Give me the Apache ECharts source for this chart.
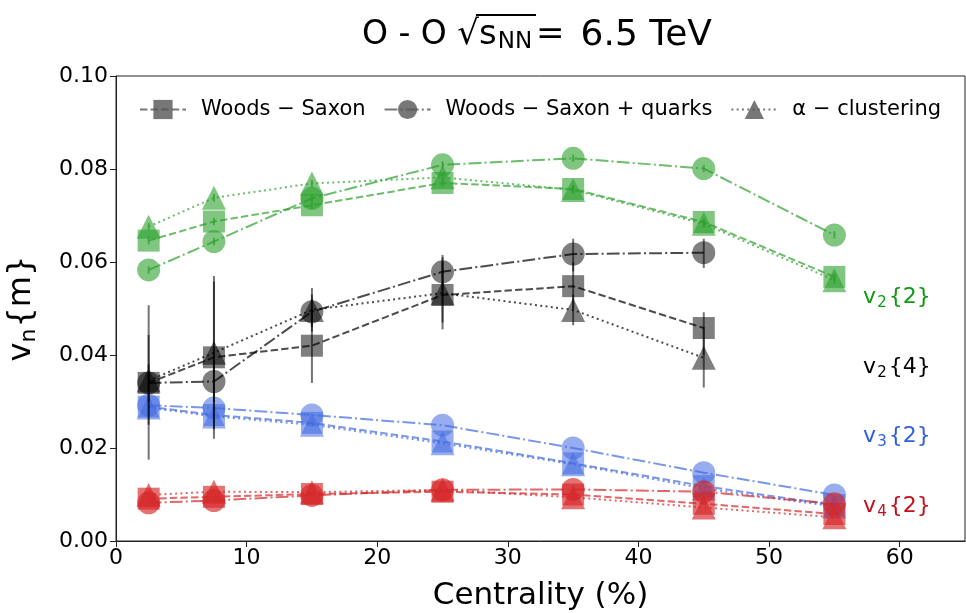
<!DOCTYPE html>
<html>
<head>
<meta charset="utf-8">
<script src="https://cdn.jsdelivr.net/npm/echarts@6/dist/echarts.min.js"></script>
<style>
  html, body { margin: 0; padding: 0; background: #fff; }
  #chart { width: 966px; height: 613px; }
</style>
</head>
<body>
<div id="chart"></div>
<script>
// centrality bins (%)
const cent = [2.5, 7.5, 15, 25, 35, 45, 55];

// v2{2}
const v22_ws    = [0.0646, 0.0687, 0.0722, 0.0770, 0.0757, 0.0686, 0.0568];
const v22_wsq   = [0.0583, 0.0644, 0.0737, 0.0809, 0.0823, 0.0801, 0.0658];
const v22_alpha = [0.0676, 0.0738, 0.0769, 0.0782, 0.0755, 0.0682, 0.0561];
const v22_err   = 0.0008;

// v2{4} (no last bin)
const v24_ws    = [0.0340, 0.0395, 0.0420, 0.0529, 0.0548, 0.0458];
const v24_wsq   = [0.0340, 0.0343, 0.0493, 0.0579, 0.0617, 0.0620];
const v24_alpha = [0.0345, 0.0405, 0.0497, 0.0533, 0.0497, 0.0394];
// error bars [low, high]
const v24_ws_err    = [[0.0250, 0.0443], [0.0220, 0.0570], [0.0340, 0.0500], [0.0455, 0.0600], [0.0500, 0.0600], [0.0400, 0.0492]];
const v24_wsq_err   = [[0.0300, 0.0380], [0.0300, 0.0390], [0.0460, 0.0530], [0.0540, 0.0610], [0.0580, 0.0650], [0.0587, 0.0650]];
const v24_alpha_err = [[0.0175, 0.0507], [0.0240, 0.0558], [0.0450, 0.0544], [0.0470, 0.0615], [0.0464, 0.0530], [0.0330, 0.0460]];

// v3{2}
const v32_ws    = [0.0289, 0.0271, 0.0254, 0.0214, 0.0167, 0.0118, 0.0077];
const v32_wsq   = [0.0292, 0.0286, 0.0271, 0.0249, 0.0200, 0.0147, 0.0099];
const v32_alpha = [0.0287, 0.0268, 0.0250, 0.0210, 0.0165, 0.0113, 0.0074];

// v4{2}
const v42_ws    = [0.0091, 0.0095, 0.0101, 0.0106, 0.0100, 0.0080, 0.0058];
const v42_wsq   = [0.0082, 0.0087, 0.0098, 0.0110, 0.0111, 0.0106, 0.0080];
const v42_alpha = [0.0099, 0.0106, 0.0105, 0.0110, 0.0094, 0.0072, 0.0051];

const legendNames = ['Woods \u2212 Saxon', 'Woods \u2212 Saxon + quarks', '\u03b1 \u2212 clustering'];

// side labels
const annotSub  = ['2', '2', '3', '4'];
const annotTail = ['{2}', '{4}', '{2}', '{2}'];
const annotX    = [57.2, 57.2, 57.2, 57.2];
const annotY    = [0.0525, 0.0374, 0.0226, 0.0075];

const GREEN = '#2ca02c', BLACK = '#000000', BLUE = '#4169e1', RED = '#d62728';
const annotColors = ['#119911', '#000000', '#2f5ee0', '#c40f1c'];

const FONT = 'DejaVu Sans';
const models = [
  { symbol: 'rect', size: 22, dash: [7.4, 3.2] },
  { symbol: 'circle', size: 23, dash: [12.8, 3.2, 2, 3.2] },
  { symbol: 'triangle', size: 24, dash: [2, 3.3] }
];

function pairs(ys) { return ys.map((y, i) => [cent[i], y]); }

function lineSeries(ys, color, m, alpha) {
  return {
    type: 'line',
    data: pairs(ys),
    symbol: models[m].symbol,
    symbolSize: models[m].size,
    itemStyle: { color: color, opacity: alpha },
    lineStyle: { color: color, width: 2, type: models[m].dash, opacity: 0.7 },
    emphasis: { disabled: true },
    z: 2
  };
}

function errSeries(rows, color, alpha) {
  return {
    type: 'custom',
    data: rows,
    renderItem: function (params, api) {
      const p0 = api.coord([api.value(0), api.value(1)]);
      const p1 = api.coord([api.value(0), api.value(2)]);
      return {
        type: 'line',
        shape: { x1: p0[0], y1: p0[1], x2: p1[0], y2: p1[1] },
        style: { stroke: color, lineWidth: 2, opacity: alpha }
      };
    },
    encode: { x: 0, y: [1, 2] },
    z: 3
  };
}

const series = [];
// legend-only entries in grey
legendNames.forEach((n, m) => {
  series.push({
    name: n, type: 'line', data: [],
    symbol: models[m].symbol, symbolSize: models[m].size - 4,
    itemStyle: { color: '#555', opacity: 0.8 },
    lineStyle: { color: '#555', width: 2, type: models[m].dash, opacity: 0.8 }
  });
});

[[v22_ws, v22_wsq, v22_alpha, GREEN, 0.6],
 [v24_ws, v24_wsq, v24_alpha, BLACK, 0.5],
 [v32_ws, v32_wsq, v32_alpha, BLUE, 0.55],
 [v42_ws, v42_wsq, v42_alpha, RED, 0.65]].forEach(g => {
  for (let m = 0; m < 3; m++) series.push(lineSeries(g[m], g[3], m, g[4]));
});

[v22_ws, v22_wsq, v22_alpha].forEach(ys => {
  series.push(errSeries(ys.map((y, i) => [cent[i], y - v22_err, y + v22_err]), GREEN, 0.7));
});
[v24_ws_err, v24_wsq_err, v24_alpha_err].forEach(rows => {
  series.push(errSeries(rows.map((r, i) => [cent[i], r[0], r[1]]), BLACK, 0.55));
});

series.push({
  type: 'scatter',
  symbolSize: 0,
  silent: true,
  itemStyle: { opacity: 1 },
  data: annotY.map((y, i) => ({
    value: [annotX[i], y],
    label: { color: annotColors[i] },
    sub: annotSub[i], tail: annotTail[i]
  })),
  label: {
    show: true,
    position: 'right',
    distance: 0,
    opacity: 1,
    fontFamily: FONT,
    fontSize: 22,
    formatter: p => '{v|v}{s|' + p.data.sub + '}' + p.data.tail,
    rich: {
      v: { fontFamily: FONT, fontSize: 22 },
      s: { fontFamily: FONT, fontSize: 15, padding: [12, 2, 0, 1] }
    }
  },
  z: 5
});

const chart = echarts.init(document.getElementById('chart'), null, { renderer: 'canvas' });
chart.setOption({
  animation: false,
  backgroundColor: '#fff',
  title: {
    text: '{o|O - O }{r|\u221a}{s|s}{sub|NN}{e|=}{n|6.5 TeV}',
    left: 357,
    top: 12,
    textStyle: {
      rich: {
        o: { fontFamily: FONT, fontSize: 33, fontWeight: 'normal', color: '#000' },
        n: { fontFamily: FONT, fontSize: 36, fontWeight: 'normal', color: '#000' },
        r: { fontFamily: FONT, fontSize: 34, fontWeight: 'normal', color: '#000' },
        s: { fontFamily: FONT, fontSize: 34, fontWeight: 'normal', color: '#000' },
        sub: { fontFamily: FONT, fontSize: 23, fontWeight: 'normal', color: '#000', padding: [14, 0, 0, 1] },
        e: { fontFamily: FONT, fontSize: 34, fontWeight: 'normal', color: '#000', padding: [0, 16, 0, 4] }
      }
    }
  },
  // overbar of the square root
  graphic: [{
    type: 'line',
    shape: { x1: 476, y1: 15, x2: 536, y2: 15 },
    style: { stroke: '#000', lineWidth: 2 }
  }],
  legend: {
    data: legendNames,
    left: 134,
    top: 94,
    itemWidth: 46,
    itemHeight: 24,
    itemGap: 18,
    textStyle: { fontFamily: FONT, fontSize: 21, color: '#000', padding: [0, 0, 0, 10] }
  },
  grid: {
    left: 116, right: 1, top: 76, bottom: 72,
    show: true, borderColor: '#222', borderWidth: 1,
    outerBoundsMode: 'none'
  },
  xAxis: {
    type: 'value',
    min: 0, max: 65, interval: 10,
    name: 'Centrality (%)',
    nameLocation: 'middle',
    nameGap: 39,
    nameTextStyle: { fontFamily: FONT, fontSize: 31, color: '#000' },
    axisLine: { show: true, lineStyle: { color: '#222', width: 1 } },
    axisTick: { show: true, inside: false, length: 6, lineStyle: { color: '#222' } },
    axisLabel: {
      fontFamily: FONT, fontSize: 22, color: '#000', margin: 6,
      showMaxLabel: false,
      formatter: v => (v % 10 === 0 ? String(v) : '')
    },
    splitLine: { show: false }
  },
  yAxis: {
    type: 'value',
    min: 0, max: 0.1, interval: 0.02,
    name: '{v|v}{s|n}{m}',
    nameLocation: 'middle',
    nameGap: 76,
    nameTextStyle: {
      fontFamily: FONT, fontSize: 32, color: '#000',
      rich: {
        v: { fontFamily: FONT, fontSize: 32, color: '#000' },
        s: { fontFamily: FONT, fontSize: 22, color: '#000', padding: [14, 1, 0, 0] }
      }
    },
    axisLine: { show: true, lineStyle: { color: '#222', width: 1 } },
    axisTick: { show: true, inside: false, length: 6, lineStyle: { color: '#222' } },
    axisLabel: {
      fontFamily: FONT, fontSize: 22, color: '#000', margin: 8,
      formatter: v => v.toFixed(2)
    },
    splitLine: { show: false }
  },
  series: series
});
</script>
</body>
</html>
